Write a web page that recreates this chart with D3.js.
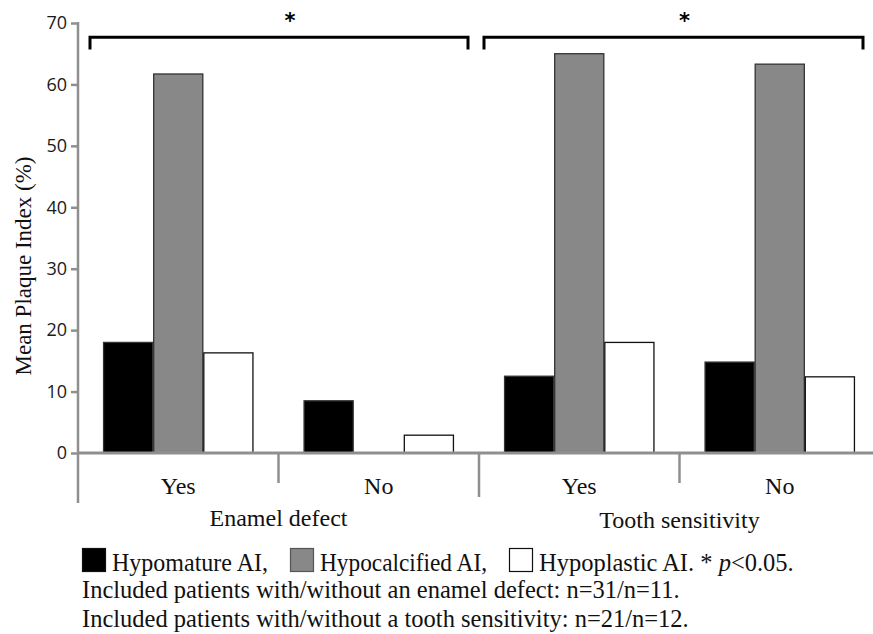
<!DOCTYPE html>
<html>
<head>
<meta charset="utf-8">
<script src="https://cdn.jsdelivr.net/npm/d3@7"></script>
<style>
  body { margin: 0; background: #fff; }
  svg { display: block; }
</style>
</head>
<body>
<div id="chart"></div>
<script>
// data
const groups = ['Enamel defect', 'Tooth sensitivity'];
const categories = ['Enamel defect|Yes', 'Enamel defect|No', 'Tooth sensitivity|Yes', 'Tooth sensitivity|No'];
const catLabels = ['Yes', 'No', 'Yes', 'No'];
const series = ['Hypomature AI', 'Hypocalcified AI', 'Hypoplastic AI'];
const hypomature = [18.0, 8.5, 12.5, 14.8];
const hypocalcified = [61.7, 0, 65.0, 63.3];
const hypoplastic = [16.3, 2.9, 18.0, 12.4];
const yTicks = [0, 10, 20, 30, 40, 50, 60, 70];
const notes = [
  'Included patients with/without an enamel defect: n=31/n=11.',
  'Included patients with/without a tooth sensitivity: n=21/n=12.'
];

const colors = { 'Hypomature AI': '#000000', 'Hypocalcified AI': '#888888', 'Hypoplastic AI': '#ffffff' };
const axisColor = '#8f8f8f';
const serif = "'Liberation Serif', 'Times New Roman', serif";

const width = 873, height = 634;
const svg = d3.select('#chart').append('svg')
  .attr('width', width)
  .attr('height', height);

const x0 = d3.scaleBand().domain(categories).range([78, 880]);
const xg = d3.scaleBand().domain(groups).range([78, 880]);
const x1 = d3.scaleBand().domain(series).range([0, x0.bandwidth()]).paddingOuter(0.5);
const y = d3.scaleLinear().domain([0, 70]).range([453, 23]);

const rows = categories.map((c, i) => ({
  cat: c,
  label: catLabels[i],
  values: [hypomature[i], hypocalcified[i], hypoplastic[i]]
}));

// bars
const catG = svg.selectAll('.cat')
  .data(rows)
  .enter()
  .append('g')
  .attr('transform', (d) => `translate(${x0(d.cat)},0)`);

catG.selectAll('rect')
  .data((d) => d.values.map((v, j) => ({ key: series[j], value: v })).filter((b) => b.value > 0))
  .enter()
  .append('rect')
  .attr('x', (d) => x1(d.key) + 0.5)
  .attr('y', (d) => y(d.value))
  .attr('width', x1.bandwidth() - 1)
  .attr('height', (d) => y(0) - y(d.value))
  .attr('fill', (d) => colors[d.key])
  .attr('stroke', (d) => d.key === 'Hypoplastic AI' ? '#111' : '#333')
  .attr('stroke-width', 1.3);

// y axis
const yAxis = svg.append('g')
  .attr('transform', 'translate(78,0)')
  .call(d3.axisLeft(y).tickValues(yTicks).tickSize(7).tickPadding(4));
yAxis.select('.domain').remove();
yAxis.selectAll('.tick line').attr('stroke', axisColor).attr('stroke-width', 2.5);
yAxis.selectAll('.tick text')
  .attr('fill', '#1a1a1a')
  .style('font-family', "'Open Sans', 'Noto Sans', sans-serif")
  .style('font-size', '18px');

svg.append('line')
  .attr('x1', 78).attr('x2', 78)
  .attr('y1', y(70) - 1).attr('y2', 503)
  .attr('stroke', axisColor).attr('stroke-width', 2.5);

// x axis line
svg.append('line')
  .attr('x1', 78).attr('x2', 880)
  .attr('y1', y(0)).attr('y2', y(0))
  .attr('stroke', axisColor).attr('stroke-width', 3);

// separators between categories (short) and groups (long)
svg.selectAll('.sep')
  .data(categories.filter((c, i) => i % 2 === 0))
  .enter()
  .append('line')
  .attr('x1', (d) => x0(d) + x0.bandwidth())
  .attr('x2', (d) => x0(d) + x0.bandwidth())
  .attr('y1', y(0)).attr('y2', 483)
  .attr('stroke', axisColor).attr('stroke-width', 2.5);

svg.selectAll('.gsep')
  .data(groups.slice(1))
  .enter()
  .append('line')
  .attr('x1', (d) => xg(d))
  .attr('x2', (d) => xg(d))
  .attr('y1', y(0)).attr('y2', 497)
  .attr('stroke', axisColor).attr('stroke-width', 2.5);

// category labels
svg.selectAll('.catlabel')
  .data(rows)
  .enter()
  .append('text')
  .attr('x', (d) => x0(d.cat) + x0.bandwidth() / 2)
  .attr('y', 494)
  .attr('text-anchor', 'middle')
  .style('font-family', serif)
  .style('font-size', '24px')
  .attr('fill', '#111')
  .text((d) => d.label);

// group labels
svg.selectAll('.glabel')
  .data(groups)
  .enter()
  .append('text')
  .attr('x', (d) => xg(d) + xg.bandwidth() / 2)
  .attr('y', (d, i) => 526 + i * 2)
  .attr('text-anchor', 'middle')
  .style('font-family', serif)
  .style('font-size', '24px')
  .attr('fill', '#111')
  .text((d) => d);

// y title
svg.append('text')
  .attr('transform', 'translate(31,266) rotate(-90)')
  .attr('text-anchor', 'middle')
  .style('font-family', serif)
  .style('font-size', '23px')
  .attr('fill', '#111')
  .text('Mean Plaque Index (%)');

// significance brackets
const insets = [[12, 11], [5, 17]];
groups.forEach((g, i) => {
  const l = xg(g) + insets[i][0];
  const r = xg(g) + xg.bandwidth() - insets[i][1];
  const top = y(67.7), bot = y(65.7);
  svg.append('path')
    .attr('d', `M${l},${bot}V${top}H${r}V${bot}`)
    .attr('fill', 'none')
    .attr('stroke', '#000')
    .attr('stroke-width', 3);
  svg.append('text')
    .attr('x', (l + r) / 2 + 11)
    .attr('y', 28)
    .attr('text-anchor', 'middle')
    .style('font-family', "'DejaVu Sans', sans-serif")
    .style('font-weight', 'bold')
    .style('font-size', '21px')
    .text('*');
});

// legend
const legendWidths = [156, 167];
const legend = svg.append('g');
let lx = 82;
series.forEach((s, i) => {
  legend.append('rect')
    .attr('x', lx + 0.5).attr('y', 548.5)
    .attr('width', 23).attr('height', 23)
    .attr('fill', colors[s])
    .attr('stroke', i === 1 ? '#555' : '#111')
    .attr('stroke-width', 1.2);
  const t = legend.append('text')
    .attr('x', lx + 30)
    .attr('y', 571)
    .style('font-family', serif)
    .style('font-size', '25px')
    .attr('fill', '#111');
  if (i < series.length - 1) {
    t.attr('textLength', legendWidths[i])
      .attr('lengthAdjust', 'spacingAndGlyphs')
      .text(s + ',');
    lx = lx + 30 + legendWidths[i] + 22;
  } else {
    t.style('font-size', '24.5px');
    t.append('tspan').text(s + '. * ');
    t.append('tspan').style('font-style', 'italic').text('p');
    t.append('tspan').text('<0.05.');
  }
});

svg.selectAll('.note')
  .data(notes)
  .enter()
  .append('text')
  .attr('x', 82)
  .attr('y', (d, i) => 598 + i * 29)
  .style('font-family', serif)
  .style('font-size', '24.5px')
  .attr('fill', '#111')
  .text((d) => d);
</script>
</body>
</html>
